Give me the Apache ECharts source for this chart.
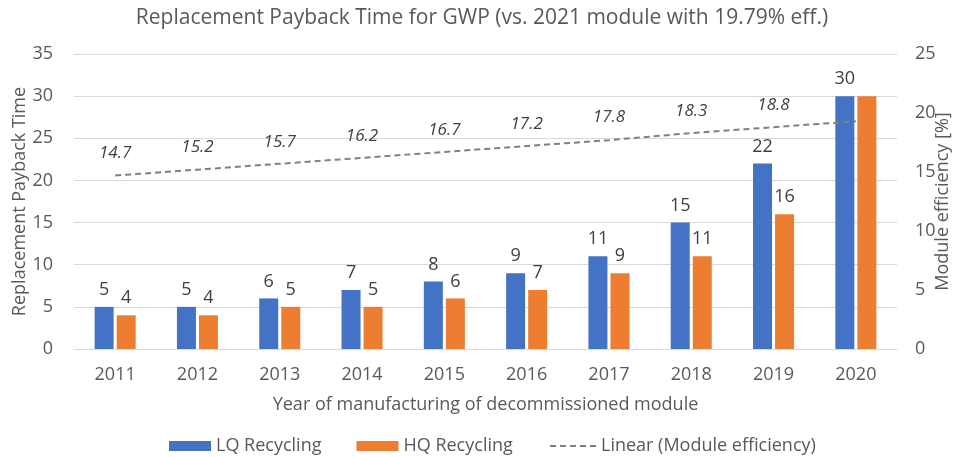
<!DOCTYPE html>
<html>
<head>
<meta charset="utf-8">
<script src="https://cdn.jsdelivr.net/npm/echarts@6/dist/echarts.min.js"></script>
<style>
  html, body { margin: 0; padding: 0; background: #fff; }
  #chart { width: 964px; height: 457px; }
</style>
</head>
<body>
<div id="chart"></div>
<script>
var years = ['2011', '2012', '2013', '2014', '2015', '2016', '2017', '2018', '2019', '2020'];
var lqRecycling = [5, 5, 6, 7, 8, 9, 11, 15, 22, 30];
var hqRecycling = [4, 4, 5, 5, 6, 7, 9, 11, 16, 30];
// module efficiency labels (no label shown for 2020)
var moduleEfficiency = [14.7, 15.2, 15.7, 16.2, 16.7, 17.2, 17.8, 18.3, 18.8, null];
// linear trend of efficiency
var efficiencyTrend = [14.7, 15.2, 15.7, 16.2, 16.7, 17.2, 17.7, 18.3, 18.8, 19.3];

var font = 'Open Sans';
var grey = '#595959';
var dashIcon = 'path://M0,0h6v2h-6z M10,0h6v2h-6z M20,0h6v2h-6z M30,0h6v2h-6z M40,0h6v2h-6z';

var option = {
    animation: false,
    textStyle: { fontFamily: font },
    title: {
        text: 'Replacement Payback Time for GWP (vs. 2021 module with 19.79% eff.)',
        left: 'center',
        top: 3,
        textStyle: { fontFamily: font, fontSize: 21, fontWeight: 'normal', color: grey }
    },
    legend: [{
        top: 432,
        left: 164,
        itemGap: 35,
        itemWidth: 42,
        itemHeight: 10,
        textStyle: { fontFamily: font, fontSize: 18, color: grey },
        data: [
            { name: 'LQ Recycling', icon: 'rect' },
            { name: 'HQ Recycling', icon: 'rect' }
        ]
    }, {
        top: 432,
        left: 545,
        itemWidth: 46,
        itemHeight: 2,
        textStyle: { fontFamily: font, fontSize: 18, color: grey },
        data: [
            { name: 'Linear (Module efficiency)', icon: dashIcon, itemStyle: { color: '#808080' } }
        ]
    }],
    grid: { left: 74, right: 67, top: 54, bottom: 108, outerBoundsMode: 'none' },
    xAxis: {
        type: 'category',
        data: years,
        name: 'Year of manufacturing of decommissioned module',
        nameLocation: 'middle',
        nameGap: 47,
        nameTextStyle: { fontFamily: font, fontSize: 18, color: grey },
        axisLine: { lineStyle: { color: '#D9D9D9' } },
        axisTick: { show: false },
        axisLabel: { fontFamily: font, fontSize: 18, color: grey, margin: 17 }
    },
    yAxis: [{
        type: 'value',
        min: 0,
        max: 35,
        interval: 5,
        name: 'Replacement Payback Time',
        nameLocation: 'middle',
        nameGap: 45,
        nameMoveOverlap: false,
        nameTextStyle: { fontFamily: font, fontSize: 18, color: grey },
        axisLine: { show: false },
        axisTick: { show: false },
        axisLabel: { fontFamily: font, fontSize: 18, color: grey, margin: 21 },
        splitLine: { lineStyle: { color: '#D9D9D9', width: 1 } }
    }, {
        type: 'value',
        min: 0,
        max: 25,
        interval: 5,
        name: 'Module efficiency [%]',
        nameLocation: 'middle',
        nameGap: 37,
        nameMoveOverlap: false,
        nameTextStyle: { fontFamily: font, fontSize: 18, color: grey },
        axisLine: { show: false },
        axisTick: { show: false },
        axisLabel: { fontFamily: font, fontSize: 18, color: grey, margin: 18 },
        splitLine: { show: false }
    }],
    series: [{
        name: 'LQ Recycling',
        type: 'bar',
        barWidth: 19,
        barGap: '16%',
        itemStyle: { color: '#4472C4' },
        label: { show: true, position: 'top', distance: 8, fontFamily: font, fontSize: 18, color: '#404040' },
        data: lqRecycling
    }, {
        name: 'HQ Recycling',
        type: 'bar',
        barWidth: 19,
        barGap: '16%',
        itemStyle: { color: '#ED7D31' },
        label: { show: true, position: 'top', distance: 8, fontFamily: font, fontSize: 18, color: '#404040' },
        data: hqRecycling.map(function (v, i) {
            return i === hqRecycling.length - 1 ? { value: v, label: { show: false } } : v;
        })
    }, {
        name: 'Linear (Module efficiency)',
        type: 'line',
        yAxisIndex: 1,
        symbol: 'none',
        lineStyle: { color: '#808080', width: 2, type: [6, 4] },
        itemStyle: { color: '#808080' },
        data: efficiencyTrend,
        z: 3
    }, {
        name: 'Module efficiency',
        type: 'line',
        yAxisIndex: 1,
        symbol: 'circle',
        symbolSize: 1,
        showSymbol: true,
        lineStyle: { width: 0, color: 'rgba(0,0,0,0)' },
        itemStyle: { color: 'rgba(0,0,0,0)' },
        label: {
            show: true, position: 'top', distance: 13,
            fontFamily: font, fontSize: 17, fontStyle: 'italic', color: '#404040'
        },
        data: moduleEfficiency
    }]
};

var chart = echarts.init(document.getElementById('chart'));
chart.setOption(option);
</script>
</body>
</html>
